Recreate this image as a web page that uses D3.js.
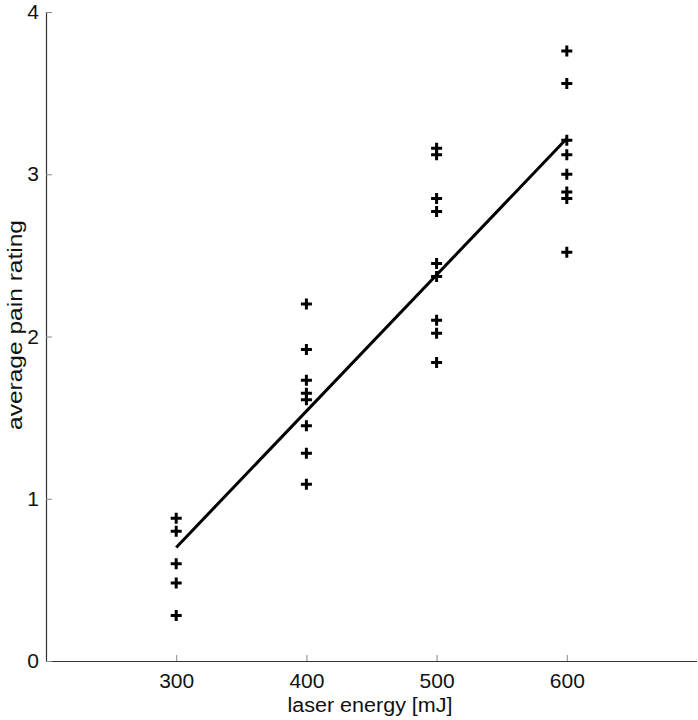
<!DOCTYPE html>
<html>
<head>
<meta charset="utf-8">
<script src="https://cdn.jsdelivr.net/npm/d3@7"></script>
<style>
  html, body { margin: 0; padding: 0; background: #fff; }
  svg { display: block; }
  text { font-family: "Liberation Sans", Arial, Helvetica, sans-serif; }
</style>
</head>
<body>
<svg id="chart" width="698" height="720"></svg>
<script>
// ---- data ----
const energies = [300, 400, 500, 600];
const ratings300 = [0.88, 0.80, 0.60, 0.48, 0.28];
const ratings400 = [2.20, 1.92, 1.73, 1.65, 1.61, 1.45, 1.28, 1.09];
const ratings500 = [3.16, 3.12, 2.85, 2.77, 2.45, 2.37, 2.10, 2.02, 1.84];
const ratings600 = [3.76, 3.56, 3.21, 3.12, 3.00, 2.89, 2.85, 2.52];
const fitX = [300, 600];
const fitY = [0.70, 3.22];
const xTicks = [300, 400, 500, 600];
const yTicks = [0, 1, 2, 3, 4];
const xLabel = "laser energy [mJ]";
const yLabel = "average pain rating";

// ---- layout ----
const svg = d3.select("#chart");
const mLeft = 46, mRight = 697, mTop = 12, mBottom = 661;
const x = d3.scaleLinear().domain([200, 700]).range([mLeft, mRight]);
const y = d3.scaleLinear().domain([0, 4]).range([mBottom, mTop]);

const groups = [ratings300, ratings400, ratings500, ratings600];
const points = [];
groups.forEach((arr, i) => arr.forEach(v => points.push({ x: energies[i], y: v })));

// axes
const xAxis = d3.axisBottom(x).tickValues(xTicks).tickFormat(d3.format("d"))
  .tickSizeInner(-6).tickSizeOuter(0).tickPadding(12);
const yAxis = d3.axisLeft(y).tickValues(yTicks).tickFormat(d3.format("d"))
  .tickSizeInner(-6).tickSizeOuter(0).tickPadding(7);

const gx = svg.append("g").attr("transform", `translate(0,${mBottom})`).call(xAxis);
const gy = svg.append("g").attr("transform", `translate(${mLeft},0)`).call(yAxis);

[gx, gy].forEach(g => {
  g.select(".domain").attr("stroke", "#333").attr("stroke-width", 1.2);
  g.selectAll(".tick line").attr("stroke", "#888").attr("stroke-width", 1);
  g.selectAll(".tick text").attr("font-size", 21).attr("fill", "#111")
    .attr("font-family", '"Liberation Sans", Arial, sans-serif');
});
gx.select(".domain").attr("d", `M${mLeft},0.5H${mRight}`);
gy.select(".domain").attr("d", `M0.5,${mBottom}V${mTop}`);

// axis labels
svg.append("text")
  .attr("x", 370)
  .attr("y", 712)
  .attr("text-anchor", "middle")
  .attr("font-size", 20)
  .attr("textLength", 165)
  .attr("lengthAdjust", "spacingAndGlyphs")
  .attr("fill", "#111")
  .text(xLabel);

svg.append("text")
  .attr("transform", `translate(22,325) rotate(-90)`)
  .attr("text-anchor", "middle")
  .attr("font-size", 20)
  .attr("textLength", 210)
  .attr("lengthAdjust", "spacingAndGlyphs")
  .attr("fill", "#111")
  .text(yLabel);

// regression line
const line = d3.line().x(d => x(d[0])).y(d => y(d[1]));
svg.append("path")
  .datum(fitX.map((v, i) => [v, fitY[i]]))
  .attr("d", line)
  .attr("fill", "none")
  .attr("stroke", "#000")
  .attr("stroke-width", 3);

// plus markers
const s = 5.5;
svg.append("g").selectAll("path.pt")
  .data(points)
  .join("path")
  .attr("class", "pt")
  .attr("d", d => {
    const cx = x(d.x), cy = y(d.y);
    return `M${cx - s},${cy}H${cx + s}M${cx},${cy - s}V${cy + s}`;
  })
  .attr("stroke", "#000")
  .attr("stroke-width", 3)
  .attr("fill", "none");
</script>
</body>
</html>
